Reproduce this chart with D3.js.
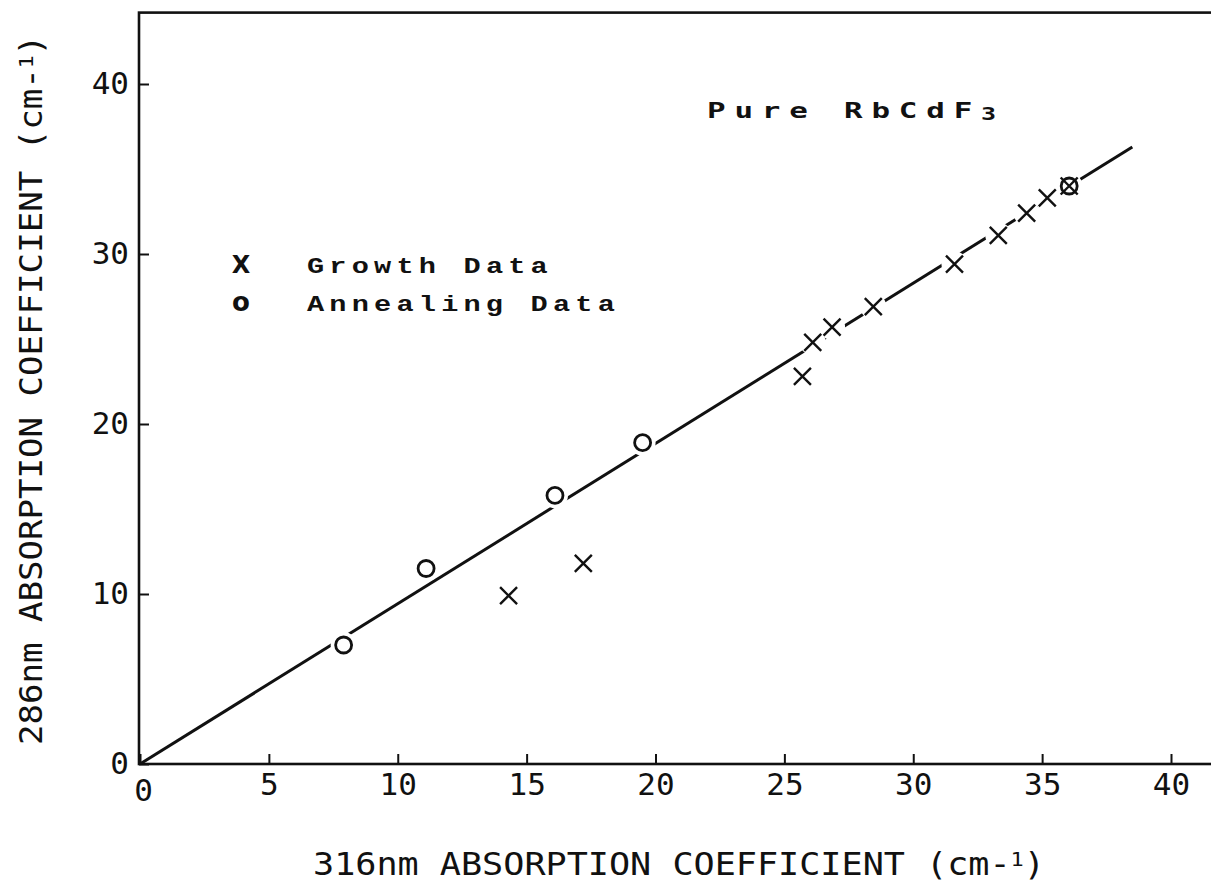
<!DOCTYPE html>
<html lang="en">
<head>
<meta charset="UTF-8">
<title>286nm vs 316nm absorption coefficient</title>
<script src="https://d3js.org/d3.v7.min.js"></script>
<style>
    body, html {
        margin: 0;
        padding: 0;
        background-color: #ffffff;
        overflow: hidden;
    }
    .tick text {
        font-family: 'DejaVu Sans Mono', monospace;
        font-size: 31px;
        fill: #111;
    }
</style>
</head>
<body>
<svg id="chart"></svg>
<script>
    // values
    const growthX = [14.3, 17.2, 25.7, 26.1, 26.85, 28.45, 31.6, 33.3, 34.4, 35.2, 36.05];
    const growthY = [9.9, 11.8, 22.8, 24.8, 25.7, 26.9, 29.4, 31.1, 32.4, 33.3, 34.0];
    const annealX = [7.9, 11.1, 16.1, 19.5, 36.05];
    const annealY = [7.0, 11.5, 15.8, 18.9, 34.0];
    const fitX = [0, 38.5];
    const fitY = [0, 36.3];
    const xTicks = [0, 5, 10, 15, 20, 25, 30, 35, 40];
    const yTicks = [0, 10, 20, 30, 40];

    const W = 1211, H = 882;
    const svg = d3.select("#chart").attr("width", W).attr("height", H);

    const x = d3.scaleLinear().domain([0, 40]).range([140, 1171]);
    const y = d3.scaleLinear().domain([0, 40]).range([764, 84]);

    const growth = growthX.map((v, i) => ({ x: v, y: growthY[i] }));
    const anneal = annealX.map((v, i) => ({ x: v, y: annealY[i] }));
    const fit = fitX.map((v, i) => ({ x: v, y: fitY[i] }));

    // frame (right side runs off the page like the scan)
    svg.append("rect")
        .attr("x", x(0) - 1)
        .attr("y", y(44.2))
        .attr("width", W + 20 - x(0))
        .attr("height", y(0) - y(44.2))
        .attr("fill", "none")
        .attr("stroke", "#111")
        .attr("stroke-width", 2.6);

    const xAxis = svg.append("g")
        .attr("transform", `translate(0,${y(0)})`)
        .call(d3.axisBottom(x).tickValues(xTicks).tickSize(-10).tickSizeOuter(0).tickPadding(9));
    xAxis.select(".domain").remove();
    xAxis.selectAll(".tick line").attr("stroke", "#111").attr("stroke-width", 2);
    xAxis.selectAll(".tick").filter(d => d === 0).select("text").attr("x", 3).attr("dy", "0.9em");

    const yAxis = svg.append("g")
        .attr("transform", `translate(${x(0) - 1},0)`)
        .call(d3.axisLeft(y).tickValues(yTicks).tickSize(-10).tickSizeOuter(0).tickPadding(10));
    yAxis.select(".domain").remove();
    yAxis.selectAll(".tick line").attr("stroke", "#111").attr("stroke-width", 2);

    // fitted line
    svg.append("path")
        .datum(fit)
        .attr("fill", "none")
        .attr("stroke", "#111")
        .attr("stroke-width", 3)
        .attr("d", d3.line().x(d => x(d.x)).y(d => y(d.y)));

    const crossPath = d => {
        const cx = x(d.x), cy = y(d.y), s = 8.5;
        return `M${cx - s},${cy - s}L${cx + s},${cy + s}M${cx - s},${cy + s}L${cx + s},${cy - s}`;
    };

    // white halos so the line breaks around each marker
    svg.append("g").selectAll("circle")
        .data(growth.concat(anneal))
        .join("circle")
        .attr("cx", d => x(d.x))
        .attr("cy", d => y(d.y))
        .attr("r", 13)
        .attr("fill", "#fff");

    svg.append("g").selectAll("path")
        .data(growth)
        .join("path")
        .attr("d", crossPath)
        .attr("stroke", "#111")
        .attr("stroke-width", 2.4)
        .attr("fill", "none");

    svg.append("g").selectAll("circle")
        .data(anneal)
        .join("circle")
        .attr("cx", d => x(d.x))
        .attr("cy", d => y(d.y))
        .attr("r", 8)
        .attr("fill", "none")
        .attr("stroke", "#111")
        .attr("stroke-width", 2.8);

    // axis titles
    const xTitle = svg.append("text")
        .attr("x", 313)
        .attr("y", 875)
        .attr("textLength", 732)
        .attr("lengthAdjust", "spacingAndGlyphs")
        .style("font-family", "'DejaVu Sans Mono', monospace")
        .style("font-size", "32px")
        .attr("fill", "#111");
    xTitle.append("tspan").text("316nm ABSORPTION COEFFICIENT  (cm-");
    xTitle.append("tspan").attr("dy", -9).style("font-size", "20px").text("1");
    xTitle.append("tspan").attr("dy", 9).text(")");

    const yTitle = svg.append("text")
        .attr("transform", "translate(42,745) rotate(-90)")
        .attr("textLength", 710)
        .attr("lengthAdjust", "spacingAndGlyphs")
        .style("font-family", "'DejaVu Sans Mono', monospace")
        .style("font-size", "32px")
        .attr("fill", "#111");
    yTitle.append("tspan").text("286nm ABSORPTION COEFFICIENT  (cm-");
    yTitle.append("tspan").attr("dy", -9).style("font-size", "20px").text("1");
    yTitle.append("tspan").attr("dy", 9).text(")");

    // legend
    const legendFont = "'Liberation Mono', 'Courier New', monospace";
    svg.append("text")
        .attr("x", 241).attr("y", 273)
        .attr("text-anchor", "middle")
        .style("font-family", "'DejaVu Sans', sans-serif")
        .style("font-weight", "bold")
        .style("font-size", "24px")
        .attr("fill", "#111")
        .text("X");
    svg.append("text")
        .attr("x", 241).attr("y", 311)
        .attr("text-anchor", "middle")
        .style("font-family", "'DejaVu Sans', sans-serif")
        .style("font-weight", "bold")
        .style("font-size", "26px")
        .attr("fill", "#111")
        .text("o");

    const legendText = (txt, yPos, len) => svg.append("text")
        .attr("x", 307).attr("y", yPos)
        .attr("textLength", len)
        .attr("lengthAdjust", "spacingAndGlyphs")
        .style("font-family", legendFont)
        .style("font-weight", "bold")
        .style("font-size", "22px")
        .style("letter-spacing", "4px")
        .attr("fill", "#111")
        .text(txt);
    legendText("Growth Data", 273, 246);
    legendText("Annealing Data", 311, 313);

    // sample label
    const sample = svg.append("text")
        .attr("x", 707).attr("y", 118)
        .attr("textLength", 298)
        .attr("lengthAdjust", "spacingAndGlyphs")
        .style("font-family", "'DejaVu Sans Mono', monospace")
        .style("font-weight", "bold")
        .style("font-size", "21px")
        .style("letter-spacing", "6px")
        .attr("fill", "#111");
    sample.append("tspan").text("Pure RbCdF");
    sample.append("tspan").attr("dy", 2).style("font-size", "17px").text("3");
</script>
</body>
</html>
